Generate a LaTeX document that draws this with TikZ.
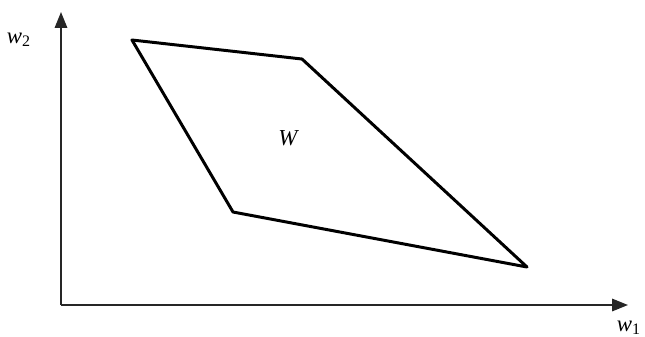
\documentclass[tikz,border=0pt]{standalone}
\usepackage{fontspec}
\setmainfont{Liberation Serif}
\usetikzlibrary{arrows.meta, positioning}

\begin{document}
\begin{tikzpicture}[
  x=0.02cm, y=-0.02cm,
  axis/.style = {-{Triangle[length=9pt, width=7pt]}, line width=1.1pt, black!85},
  region/.style = {line width=1.7pt, line join=round},
  lbl/.style = {font=\fontsize{13}{15}\selectfont\itshape, inner sep=0pt}
]
  \useasboundingbox (0,0) rectangle (645,336);

  \coordinate (o) at (61,305);
  \coordinate (ytop) at (61,12);
  \coordinate (xend) at (628,305);

  \draw[axis] (o) -- (ytop);
  \draw[axis] (o) -- (xend);

  \node[lbl] (w2) at (19,40) {w\textsubscript{\upshape 2}};
  \node[lbl] (w1) at (629,328) {w\textsubscript{\upshape 1}};

  \coordinate (a) at (132,40);
  \coordinate (b) at (302,59);
  \coordinate (c) at (527,267);
  \coordinate (d) at (233,212);
  \draw[region] (a) -- (b) -- (c) -- (d) -- cycle;

  \node[lbl] (W) at (288,138) {W};
\end{tikzpicture}
\end{document}
